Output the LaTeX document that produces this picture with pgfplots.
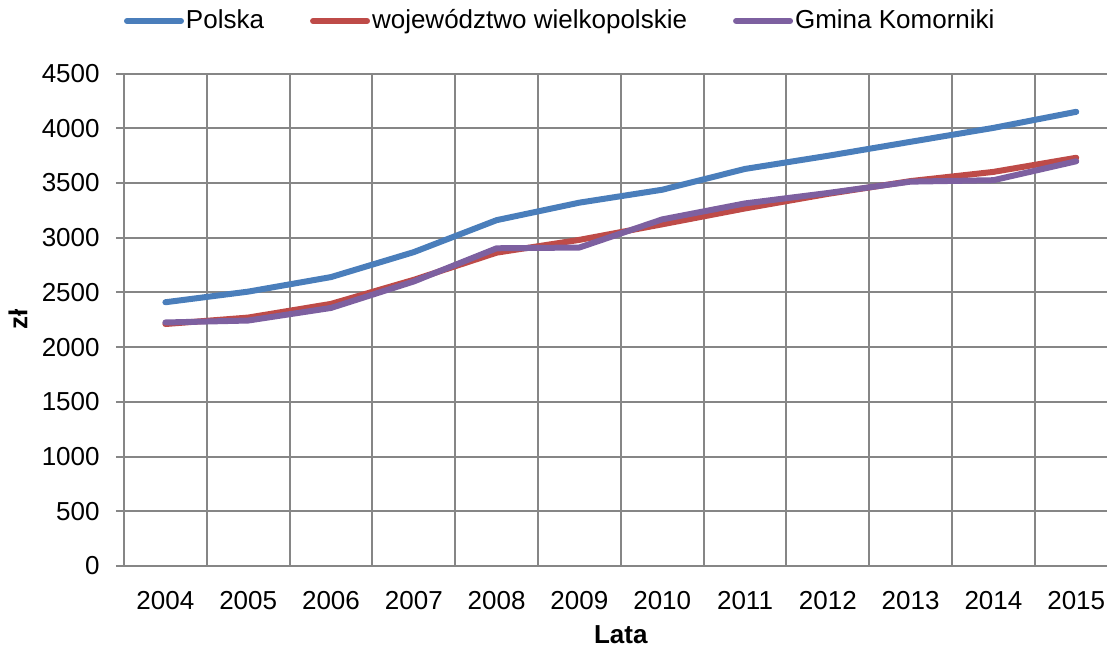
\documentclass[border=0pt]{standalone}
\usepackage{pgfplots}
\pgfplotsset{compat=1.18}
\usepackage{fontspec}
\setmainfont{Liberation Sans}
\definecolor{cblue}{HTML}{4A7EBB}
\definecolor{cred}{HTML}{BE4B48}
\definecolor{cpurple}{HTML}{7D60A0}
\definecolor{cgrid}{HTML}{868686}
\begin{document}
\fontsize{13bp}{15bp}\selectfont
\begin{tikzpicture}[x=1bp,y=1bp]
\useasboundingbox (-62,-41) rectangle (491.5,283);
\clip (-62,-41) rectangle (491.5,283);
\begin{axis}[
  at={(0,0)}, anchor=south west,
  scale only axis, width=496.8bp, height=246.25bp,
  xmin=-0.5, xmax=11.5, ymin=0, ymax=4500,
  xtick={0,...,11},
  xticklabels={2004,2005,2006,2007,2008,2009,2010,2011,2012,2013,2014,2015},
  minor xtick={-0.5,0.5,...,11.5},
  ytick={0,500,...,4500},
  xminorgrids=true, xmajorgrids=false, ymajorgrids=true,
  grid style={draw=cgrid, line width=1bp},
  minor grid style={draw=cgrid, line width=1bp},
  axis line style={draw=none},
  tick pos=left,
  x tick style={draw=none}, minor x tick style={draw=none},
  y tick style={draw=cgrid, line width=1bp},
  tick align=outside, major tick length=4bp,
  /pgf/number format/assume math mode=true,
  /pgf/number format/1000 sep={},
  xticklabel style={font=\fontsize{13bp}{15bp}\selectfont, anchor=center, yshift=-13.5bp},
  yticklabel style={font=\fontsize{13bp}{15bp}\selectfont, anchor=east, inner sep=0pt, xshift=-8bp},
  xlabel={\textbf{Lata}},
  ylabel={\textbf{zł}},
  xlabel style={font=\fontsize{13bp}{15bp}\selectfont, at={(axis description cs:0.5,-0.140)}, anchor=center},
  ylabel style={font=\fontsize{13bp}{15bp}\selectfont, at={(axis description cs:-0.1067,0.5)}, anchor=center},
  legend columns=3,
  legend image code/.code={\draw[#1] (0bp,0bp) -- (27bp,0bp);},
  legend style={at={(axis description cs:0,1.1066)}, anchor=west, draw=none, fill=none,
    inner sep=0pt, outer sep=0pt,
    font=\fontsize{13bp}{15bp}\selectfont,
    nodes={inner sep=1bp},
    /tikz/every even column/.append style={column sep=22bp}},
  every axis plot/.append style={line width=3bp, line join=round, line cap=round},
]
\addplot[cblue] coordinates {(0,2410) (1,2507) (2,2640) (3,2868) (4,3160) (5,3320) (6,3438) (7,3628) (8,3748) (9,3876) (10,4003) (11,4150)};
\addlegendentry{Polska}
\addplot[cred] coordinates {(0,2211) (1,2270) (2,2395) (3,2615) (4,2863) (5,2980) (6,3122) (7,3267) (8,3400) (9,3517) (10,3601) (11,3730)};
\addlegendentry{województwo wielkopolskie}
\addplot[cpurple] coordinates {(0,2225) (1,2243) (2,2358) (3,2600) (4,2903) (5,2910) (6,3167) (7,3313) (8,3408) (9,3512) (10,3525) (11,3698)};
\addlegendentry{Gmina Komorniki}
\end{axis}
\end{tikzpicture}
\end{document}
